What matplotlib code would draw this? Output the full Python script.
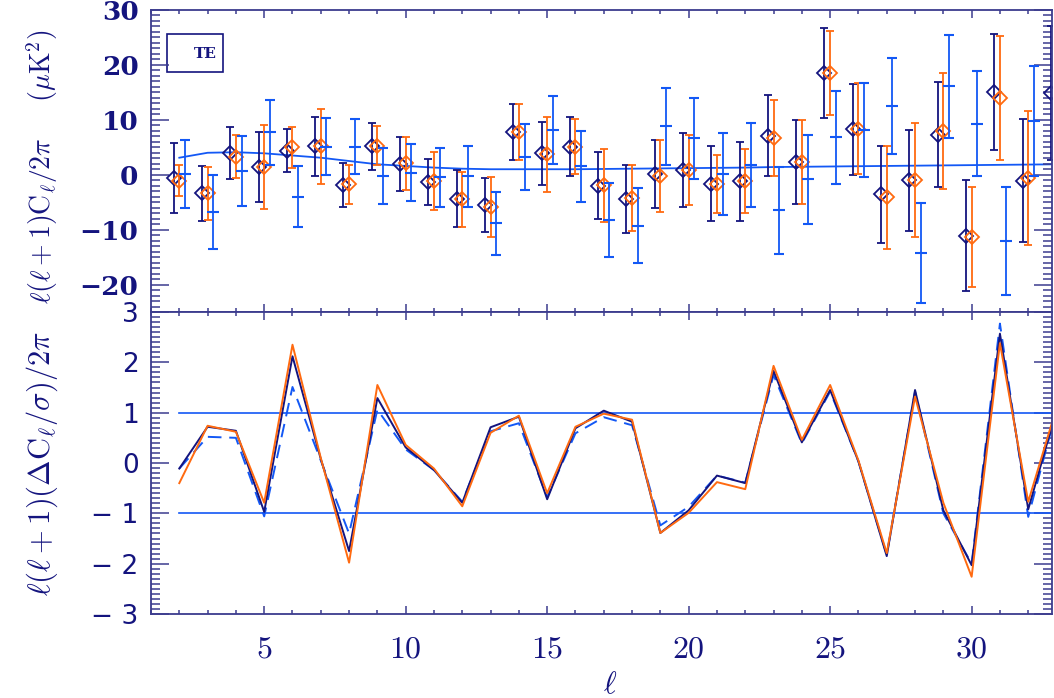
import matplotlib
matplotlib.use('Agg')
import matplotlib.pyplot as plt
from matplotlib.ticker import MultipleLocator, FuncFormatter
from matplotlib.patches import Rectangle
import numpy as np

plt.rcParams['mathtext.fontset'] = 'cm'

# multipoles
ell = np.arange(2, 34)          # 2..33
ell_short = np.arange(2, 33)    # 2..32

# top panel: TE spectra (muK^2)
dark_te = [-0.6, -3.4, 3.9, 1.45, 4.4, 5.15, -1.9, 5.15, 1.9, -1.3, -4.4, -5.45,
           7.8, 3.9, 5.1, -2.0, -4.4, 0.1, 0.85, -1.6, -1.15, 7.1, 2.25, 18.5,
           8.25, -3.6, -0.97, 7.3, -11.1, 15.0, -1.1, 14.8]
dark_err = [6.45, 5.05, 4.75, 6.4, 3.95, 5.45, 4.05, 4.3, 4.95, 4.25, 5.2, 4.9,
            5.1, 5.7, 5.35, 6.05, 6.15, 6.25, 6.75, 6.75, 7.2, 7.4, 7.65, 8.15,
            8.25, 8.8, 9.2, 9.55, 10.05, 10.55, 11.2, 12.2]
orange_te = [-1.1, -3.4, 3.3, 1.45, 5.0, 5.15, -1.7, 5.3, 2.1, -1.15, -4.5, -5.8,
             7.85, 3.75, 5.1, -1.95, -4.25, -0.2, 0.85, -1.7, -1.15, 6.7, 2.4, 18.6,
             8.4, -4.1, -0.97, 8.0, -11.3, 13.9, -0.6]
orange_err = [2.8, 4.8, 3.95, 7.65, 3.75, 6.75, 3.55, 3.55, 4.85, 5.25, 5.0, 5.45,
              5.1, 6.85, 5.0, 6.65, 6.0, 6.5, 6.3, 5.3, 5.8, 6.85, 7.65, 7.65,
              8.3, 9.35, 10.4, 10.6, 9.1, 11.3, 12.25]
blue_te = [0.1, -6.8, 0.7, 7.7, -4.0, 5.1, 5.1, -0.3, 0.4, -0.5, -0.3, -8.85,
           3.3, 8.1, 1.5, -8.25, -9.3, 8.8, 6.6, 0.1, 1.75, -6.5, -0.85, 6.8,
           8.1, 12.5, -14.3, 16.1, 9.3, -12.1, 9.8]
blue_err = [6.25, 6.7, 6.4, 5.9, 5.5, 5.15, 5.0, 5.1, 5.25, 5.45, 5.55, 5.75,
            6.0, 6.2, 6.4, 6.7, 6.85, 7.0, 7.3, 7.45, 7.7, 7.9, 8.15, 8.45,
            8.6, 8.8, 9.1, 9.35, 9.55, 9.8, 9.95]
model_te = [3.1, 4.0, 4.1, 3.9, 3.5, 3.1, 2.5, 1.9, 1.6, 1.3, 1.1, 1.0,
            1.0, 1.0, 1.0, 1.05, 1.1, 1.15, 1.2, 1.25, 1.3, 1.4, 1.45, 1.5,
            1.55, 1.6, 1.65, 1.7, 1.75, 1.8, 1.85, 1.9]

# bottom panel: normalised differences
dark_dc = [-0.11, 0.72, 0.64, -0.97, 2.12, 0.08, -1.75, 1.29, 0.31, -0.14, -0.79, 0.71,
           0.92, -0.72, 0.69, 1.04, 0.82, -1.39, -0.94, -0.25, -0.40, 1.83, 0.41, 1.45,
           0.03, -1.85, 1.45, -0.94, -2.03, 2.57, -0.92, 1.05]
orange_dc = [-0.40, 0.74, 0.62, -0.79, 2.35, 0.10, -1.98, 1.55, 0.36, -0.11, -0.86, 0.60,
             0.94, -0.60, 0.72, 0.98, 0.86, -1.39, -0.99, -0.38, -0.52, 1.93, 0.46, 1.55,
             0.05, -1.79, 1.32, -0.79, -2.26, 2.38, -0.77, 1.10]
blue_dc = [-0.11, 0.52, 0.50, -1.06, 1.51, 0.05, -1.40, 1.06, 0.27, -0.14, -0.77, 0.63,
           0.79, -0.68, 0.59, 0.91, 0.75, -1.24, -0.87, -0.25, -0.39, 1.75, 0.39, 1.42,
           0.03, -1.82, 1.42, -1.00, -2.00, 2.77, -1.07, 1.05]

navy = '#14147e'
axcol = '#3c3c8e'
orange = '#ff6a10'
blue = '#1358f5'

fig = plt.figure(figsize=(10.54, 6.98), dpi=100)
ax1 = fig.add_axes([151/1054, 1 - 312/698, 901/1054, 302/698])
ax2 = fig.add_axes([151/1054, 1 - 614/698, 901/1054, 302/698])

# top panel
ax1.plot(ell, model_te, color=blue, lw=1.3, zorder=1)
ax1.errorbar(ell - 0.2, dark_te, yerr=dark_err, fmt='D', mfc='none', mec=navy,
             ms=7, mew=1.3, ecolor=navy, elinewidth=1.3, capsize=3, capthick=1.3, zorder=2)
ax1.errorbar(ell_short, orange_te, yerr=orange_err, fmt='D', mfc='none', mec=orange,
             ms=7, mew=1.3, ecolor=orange, elinewidth=1.3, capsize=3, capthick=1.3, zorder=3)
ax1.errorbar(ell_short + 0.2, blue_te, yerr=blue_err, fmt='_', mec=blue, ms=8, mew=1.5,
             ecolor=blue, elinewidth=1.3, capsize=3.5, capthick=1.3, zorder=4)
ax1.set_xlim(1, 32.84)
ax1.set_ylim(-25, 30)

ax1.add_patch(Rectangle((0.018, 0.795), 0.062, 0.126, transform=ax1.transAxes,
                        fill=False, ec=navy, lw=1.2))
ax1.text(0.06, 0.855, 'TE', transform=ax1.transAxes, ha='center', va='center',
         color=navy, fontsize=11, fontweight='bold', family='DejaVu Serif')

# bottom panel
ax2.axhline(1, xmin=(2 - 1) / 31.84, color=blue, lw=1.2)
ax2.axhline(-1, xmin=(2 - 1) / 31.84, color=blue, lw=1.2)
ax2.plot(ell, blue_dc, color=blue, lw=1.4, ls=(0, (7, 4)))
ax2.plot(ell, dark_dc, color=navy, lw=1.4)
ax2.plot(ell, orange_dc, color=orange, lw=1.4)
ax2.set_xlim(1, 32.84)
ax2.set_ylim(-3, 3)

for ax in (ax1, ax2):
    ax.xaxis.set_major_locator(MultipleLocator(5))
    ax.xaxis.set_minor_locator(MultipleLocator(1))
    ax.tick_params(axis='both', which='both', direction='in', top=True, right=True,
                   color=axcol, width=1.1, labelcolor=navy)
    ax.tick_params(axis='x', which='major', length=6)
    ax.tick_params(axis='x', which='minor', length=3)
    ax.tick_params(axis='y', which='major', length=13)
    ax.tick_params(axis='y', which='minor', length=6.5)
    for s in ax.spines.values():
        s.set_color(axcol)
        s.set_linewidth(1.3)

ax1.yaxis.set_major_locator(MultipleLocator(10))
ax1.yaxis.set_minor_locator(MultipleLocator(1))
ax1.yaxis.set_major_formatter(FuncFormatter(lambda v, p: ('%d' % v).replace('-', '\u2212')))
ax1.tick_params(axis='y', labelsize=19, pad=9)
for t in ax1.get_yticklabels():
    t.set_family('DejaVu Serif')
    t.set_fontweight('bold')
ax1.tick_params(axis='x', labelbottom=False)

ax2.yaxis.set_major_locator(MultipleLocator(1))
ax2.yaxis.set_minor_locator(MultipleLocator(0.1))
ax2.yaxis.set_major_formatter(FuncFormatter(lambda v, p: ('%d' % v).replace('-', '\u2212 ')))
for t in ax2.get_yticklabels():
    t.set_family('DejaVu Sans')
ax2.tick_params(axis='y', labelsize=19, pad=9)
ax2.xaxis.set_major_formatter(FuncFormatter(lambda v, p: r'$%d$' % v))
ax2.tick_params(axis='x', labelsize=23, pad=14)

fig.text(42/1054, 1 - 167/698,
         r'$\ell(\ell+1)\mathrm{C}_\ell/2\pi\quad\;\;(\mu\mathrm{K}^2)$',
         rotation=90, ha='center', va='center', fontsize=20, color=navy)
fig.text(42/1054, 1 - 464/698,
         r'$\ell(\ell+1)(\Delta\mathrm{C}_\ell/\sigma)/2\pi$',
         rotation=90, ha='center', va='center', fontsize=22, color=navy)
fig.text(610/1054, 1 - 685/698, r'$\ell$', ha='center', va='center',
         fontsize=22, color=navy)

fig.savefig('out.png', dpi=100)
